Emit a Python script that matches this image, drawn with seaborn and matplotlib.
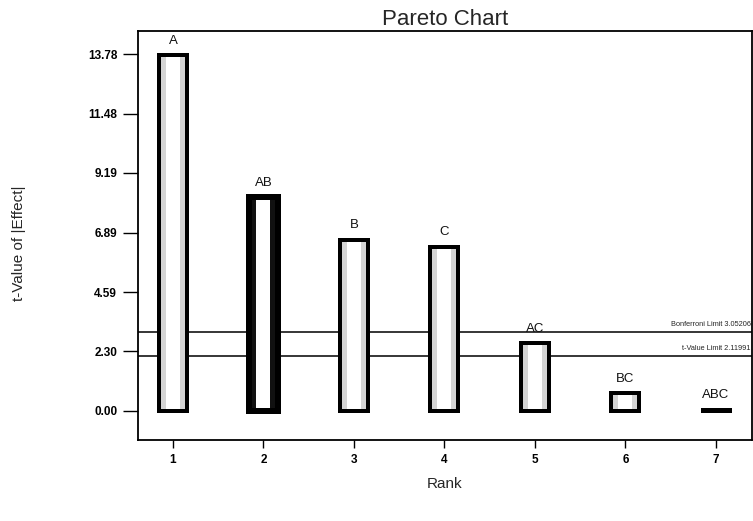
import matplotlib
matplotlib.use("Agg")
import matplotlib.pyplot as plt
import seaborn as sns
import pandas as pd

# ---- data ----
ranks = ["1", "2", "3", "4", "5", "6", "7"]
terms = ["A", "AB", "B", "C", "AC", "BC", "ABC"]
t_values = [13.74, 8.26, 6.62, 6.35, 2.63, 0.70, 0.06]
y_ticks = [0.00, 2.30, 4.59, 6.89, 9.19, 11.48, 13.78]
bonferroni_limit = 3.05206
t_value_limit = 2.11991

df = pd.DataFrame({"Rank": ranks, "Term": terms, "t": t_values})

sns.set_theme(style="ticks")
plt.rcParams["font.family"] = ["Liberation Sans", "DejaVu Sans"]

fig = plt.figure(figsize=(7.53, 5.21), dpi=100)
ax = fig.add_axes([138 / 753, 1 - 440 / 521, 614 / 753, 409 / 521])

px = 0.72  # points per pixel
outer_w = 0.31
inner_w = 0.155
band_colors = ["#d4d4d4", "#111111", "#d4d4d4", "#d4d4d4", "#d4d4d4", "#d4d4d4", "#d4d4d4"]

# limit lines (drawn beneath bars)
ax.axhline(bonferroni_limit, color="black", lw=1.1, zorder=1)
ax.axhline(t_value_limit, color="black", lw=1.1, zorder=1)

# layer 1: filled band
sns.barplot(data=df, x="Rank", y="t", hue="Rank", palette=band_colors, legend=False,
            width=outer_w, ax=ax, linewidth=0, zorder=2)
# layer 2: white inner strip
sns.barplot(data=df, x="Rank", y="t", color="white", width=inner_w, ax=ax,
            linewidth=0, saturation=1, zorder=3)
n = len(ranks)
for p in ax.patches[n:2 * n]:
    p.set_facecolor("white")
    p.set_zorder(3)
# layer 3: black outline
sns.barplot(data=df, x="Rank", y="t", width=outer_w, ax=ax, fill=False,
            edgecolor="black", linewidth=4 * px, zorder=4)
for p in ax.patches[2 * n:]:
    p.set_facecolor("none")
    p.set_edgecolor("black")
    p.set_linewidth(4 * px)
    p.set_zorder(4)
ax.patches[2 * n + 1].set_linewidth(6 * px)
ax.patches[3 * n - 1].set_linewidth(3 * px)

# term labels above bars
for i, (term, val) in enumerate(zip(terms, t_values)):
    ax.annotate(term, xy=(i, val), xytext=(0, 6), textcoords="offset points",
                ha="center", va="bottom", fontsize=9.5, color="#111111")

# limit labels
ax.annotate(f"Bonferroni Limit {bonferroni_limit:.5f}", xy=(1, bonferroni_limit),
            xycoords=("axes fraction", "data"), xytext=(-1, 3), textcoords="offset points",
            ha="right", va="bottom", fontsize=5.3)
ax.annotate(f"t-Value Limit {t_value_limit:.5f}", xy=(1, t_value_limit),
            xycoords=("axes fraction", "data"), xytext=(-1, 3), textcoords="offset points",
            ha="right", va="bottom", fontsize=5.3)

ax.set_xlim(-0.387, 6.40)
ax.set_ylim(-1.12, 14.67)
ax.set_yticks(y_ticks)
ax.set_yticklabels([f"{v:.2f}" for v in y_ticks])

for s in ["left", "right", "top", "bottom"]:
    ax.spines[s].set_visible(True)
    ax.spines[s].set_color("black")
    ax.spines[s].set_linewidth(1.3)

ax.tick_params(axis="y", direction="out", length=11, width=1, labelsize=8.5, pad=4, colors="black")
ax.tick_params(axis="x", direction="out", length=6, width=1, labelsize=8.5, pad=4, colors="black")
for lab in ax.get_xticklabels() + ax.get_yticklabels():
    lab.set_fontweight("bold")

ax.set_title("Pareto Chart", fontsize=16, pad=4)
ax.set_xlabel("Rank", fontsize=11)
ax.set_ylabel("t-Value of |Effect|", fontsize=11)
ax.xaxis.set_label_coords(0.5, -0.09)
ax.yaxis.set_label_coords(-0.182, 0.48)

fig.savefig("out.png", dpi=100)
